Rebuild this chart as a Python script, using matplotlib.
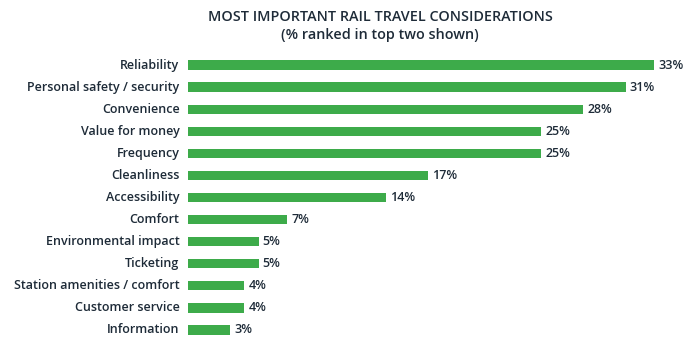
import matplotlib.pyplot as plt

plt.rcParams['font.family'] = ['Open Sans', 'DejaVu Sans']

categories = ['Reliability', 'Personal safety / security', 'Convenience',
              'Value for money', 'Frequency', 'Cleanliness', 'Accessibility',
              'Comfort', 'Environmental impact', 'Ticketing',
              'Station amenities / comfort', 'Customer service', 'Information']
values = [33, 31, 28, 25, 25, 17, 14, 7, 5, 5, 4, 4, 3]

green = '#3dab4a'
navy = '#1e2b38'

fig = plt.figure(figsize=(6.95, 3.4), dpi=100)
# axes placed so bars start at x~188px and rows run from y~63 to y~329
ax = fig.add_axes([188/695, -0.003, 494/695, (340-53)/340])

ypos = list(range(len(categories)))
ax.barh(ypos, values, height=0.42, color=green)
ax.set_xlim(0, 35)
ax.set_ylim(len(categories)-0.5, -0.5)

for y, v, c in zip(ypos, values, categories):
    ax.text(v + 0.3, y, f'{v}%', va='center', ha='left', fontsize=9,
            fontweight='semibold', color=navy)
    ax.text(-0.6, y, c, va='center', ha='right', fontsize=9,
            fontweight='semibold', color=navy)

ax.axis('off')

fig.text(380/695, 1-17/340, 'MOST IMPORTANT RAIL TRAVEL CONSIDERATIONS',
         ha='center', va='center', fontsize=10.4, fontweight='semibold', color=navy)
fig.text(380/695, 1-35/340, '(% ranked in top two shown)',
         ha='center', va='center', fontsize=10.4, fontweight='semibold', color=navy)

fig.savefig('out.png', dpi=100, facecolor='white')
